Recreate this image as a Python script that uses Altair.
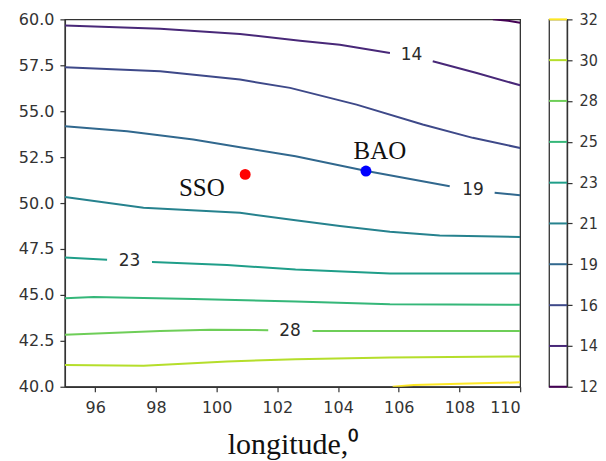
import altair as alt
import pandas as pd

# ---- data ----
levels = [12, 14.22, 16.44, 18.67, 20.89, 23.11, 25.33, 27.56, 29.78, 32]
level_colors = ["#440154", "#482878", "#3e4989", "#31688e", "#26828e",
                "#1f9e89", "#35b779", "#6ece58", "#b5de2b", "#fde725"]

x_ticks = [96, 98, 100, 102, 104, 106, 108, 110]
y_ticks = [40.0, 42.5, 45.0, 47.5, 50.0, 52.5, 55.0, 57.5, 60.0]

c12_lon = [109.1, 109.6, 110.0]
c12_lat = [60.0, 59.93, 59.82]

c14a_lon = [95.0, 98.14, 100.77, 102.75, 104.06, 105.71]
c14a_lat = [59.67, 59.49, 59.20, 58.84, 58.62, 58.17]
c14b_lon = [107.12, 108.57, 110.0]
c14b_lat = [57.72, 57.08, 56.41]

c16_lon = [95.0, 98.14, 100.77, 102.42, 104.61, 106.79, 108.44, 110.0]
c16_lat = [57.39, 57.17, 56.72, 56.27, 55.36, 54.28, 53.55, 53.0]

c19a_lon = [95.0, 97.05, 99.23, 100.87, 102.6, 104.94, 107.68]
c19a_lat = [54.18, 53.91, 53.46, 53.01, 52.55, 51.74, 50.92]
c19b_lon = [109.16, 110.0]
c19b_lat = [50.56, 50.43]

c21_lon = [95.0, 97.59, 100.77, 102.6, 104.06, 105.71, 107.35, 110.0]
c21_lat = [50.33, 49.74, 49.47, 49.06, 48.75, 48.44, 48.24, 48.15]

c23a_lon = [95.0, 96.39]
c23a_lat = [47.03, 46.92]
c23b_lon = [97.87, 100.34, 102.6, 105.71, 110.0]
c23b_lat = [46.79, 46.63, 46.38, 46.16, 46.16]

c25_lon = [95.0, 95.95, 99.24, 102.6, 105.71, 110.0]
c25_lat = [44.82, 44.89, 44.77, 44.64, 44.49, 44.46]

c28a_lon = [95.0, 98.14, 99.79, 101.70]
c28a_lat = [42.83, 43.04, 43.10, 43.08]
c28b_lon = [103.16, 110.0]
c28b_lat = [43.04, 43.04]

c30_lon = [95.0, 97.59, 100.34, 102.6, 105.71, 110.0]
c30_lat = [41.18, 41.14, 41.38, 41.50, 41.59, 41.65]

c32_lon = [105.8, 106.5, 108.0, 110.0]
c32_lat = [40.0, 40.1, 40.16, 40.24]

label_text = ["14", "19", "23", "28"]
label_lon = [106.42, 108.45, 97.13, 102.42]
label_lat = [58.05, 50.69, 46.85, 43.04]

site_name = ["SSO", "BAO"]
site_lon = [100.94, 104.92]
site_lat = [51.56, 51.74]
site_color = ["#ff0000", "#0000ff"]
site_text_lon = [99.51, 105.38]
site_text_lat = [50.83, 52.83]

# ---- build tables ----
segments = [
    (levels[0], "12", c12_lon, c12_lat),
    (levels[1], "14a", c14a_lon, c14a_lat),
    (levels[1], "14b", c14b_lon, c14b_lat),
    (levels[2], "16", c16_lon, c16_lat),
    (levels[3], "19a", c19a_lon, c19a_lat),
    (levels[3], "19b", c19b_lon, c19b_lat),
    (levels[4], "21", c21_lon, c21_lat),
    (levels[5], "23a", c23a_lon, c23a_lat),
    (levels[5], "23b", c23b_lon, c23b_lat),
    (levels[6], "25", c25_lon, c25_lat),
    (levels[7], "28a", c28a_lon, c28a_lat),
    (levels[7], "28b", c28b_lon, c28b_lat),
    (levels[8], "30", c30_lon, c30_lat),
    (levels[9], "32", c32_lon, c32_lat),
]
rows = []
for lev, seg, lons, lats in segments:
    for i, (lo, la) in enumerate(zip(lons, lats)):
        rows.append({"lon": lo, "lat": la, "level": lev, "seg": seg, "i": i})
lines_df = pd.DataFrame(rows)

labels_df = pd.DataFrame({"text": label_text, "lon": label_lon, "lat": label_lat})
sites_df = pd.DataFrame({"name": site_name, "lon": site_lon, "lat": site_lat,
                         "color": site_color, "tlon": site_text_lon,
                         "tlat": site_text_lat})
cbar_df = pd.DataFrame({"level": levels, "color": level_colors})

xs = alt.Scale(domain=[95, 110], nice=False, zero=False)
ys = alt.Scale(domain=[40, 60], nice=False, zero=False)

x_axis = alt.Axis(values=x_ticks, title="longitude,⁰", titleFont="Liberation Serif",
                  titleFontSize=30, titleFontWeight="normal", titleColor="#111",
                  titlePadding=14, labelPadding=8)
y_axis = alt.Axis(values=y_ticks, format=".1f", title=None, labelPadding=6)

lines = alt.Chart(lines_df).mark_line(strokeWidth=2, clip=True).encode(
    x=alt.X("lon:Q", scale=xs, axis=x_axis),
    y=alt.Y("lat:Q", scale=ys, axis=y_axis),
    color=alt.Color("level:Q", scale=alt.Scale(domain=levels, range=level_colors,
                                                type="linear"), legend=None),
    detail="seg:N",
    order="i:Q",
)

clabels = alt.Chart(labels_df).mark_text(font="DejaVu Sans", fontSize=17,
                                         color="#2a2a2a", baseline="middle").encode(
    x=alt.X("lon:Q", scale=xs), y=alt.Y("lat:Q", scale=ys), text="text:N")

dots = alt.Chart(sites_df).mark_point(filled=True, size=120, opacity=1).encode(
    x=alt.X("lon:Q", scale=xs), y=alt.Y("lat:Q", scale=ys),
    color=alt.Color("color:N", scale=None))

site_labels = alt.Chart(sites_df).mark_text(font="Liberation Serif", fontSize=25,
                                            color="#111", baseline="middle").encode(
    x=alt.X("tlon:Q", scale=xs), y=alt.Y("tlat:Q", scale=ys), text="name:N")

main = alt.layer(lines, clabels, dots, site_labels).properties(width=456, height=368)

cbar = alt.Chart(cbar_df).mark_rule(strokeWidth=2).encode(
    y=alt.Y("level:Q", scale=alt.Scale(domain=[12, 32], nice=False, zero=False),
            axis=alt.Axis(orient="right", values=levels, format="d", title=None,
                          labelPadding=7,
                          labelFont="DejaVu Sans Condensed, Liberation Sans Narrow, DejaVu Sans")),
    x=alt.value(0), x2=alt.value(18),
    color=alt.Color("color:N", scale=None),
).properties(width=18, height=368)

chart = alt.hconcat(main, cbar, spacing=29, bounds="flush").properties(
    padding={"left": 9, "top": 2, "right": 0, "bottom": 0}
).configure_view(stroke="#333", strokeWidth=1.3).configure_axis(
    labelFont="DejaVu Sans", labelFontSize=16, labelColor="#333",
    domainColor="#333", tickColor="#333", tickSize=5, grid=False,
    domainWidth=1.3, tickWidth=1.2
)

chart.save("out.html", embed_options={"renderer": "svg", "actions": False})
